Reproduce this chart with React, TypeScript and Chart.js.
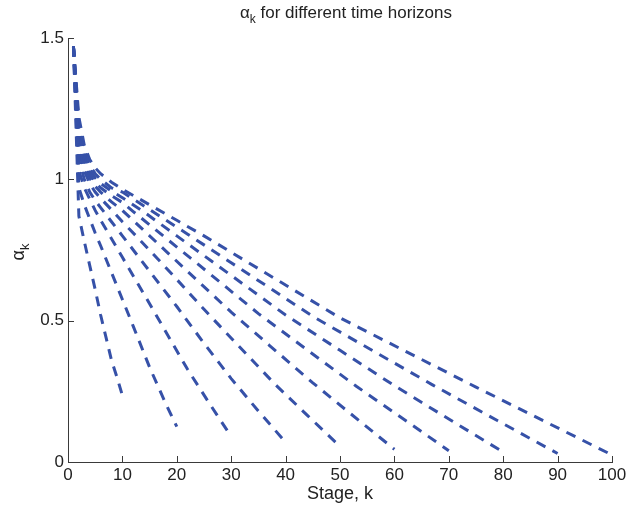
import React, { useEffect, useRef } from "react";
import { Chart, registerables } from "chart.js";

Chart.register(...registerables);

// ---- data ----
const horizons = [10, 20, 30, 40, 50, 60, 70, 80, 90, 100];

const stages10 = [1, 2, 3, 4, 5, 6, 7, 8, 9, 10];
const alpha10 = [1.47, 0.87, 0.78, 0.695, 0.61, 0.52, 0.44, 0.36, 0.3, 0.235];

const stages20 = [1, 2, 3, 4, 5, 6, 8, 10, 12, 15, 18, 20];
const alpha20 = [1.47, 0.97, 0.91, 0.86, 0.81, 0.765, 0.67, 0.575, 0.48, 0.335, 0.205, 0.125];

const stages30 = [1, 2, 3, 4, 5, 6, 8, 10, 12, 15, 18, 22, 26, 30];
const alpha30 = [1.47, 1.03, 0.97, 0.93, 0.89, 0.856, 0.79, 0.724, 0.658, 0.56, 0.46, 0.327, 0.207, 0.09];

const stages40 = [1, 2, 3, 4, 5, 6, 8, 10, 15, 20, 25, 30, 35, 40];
const alpha40 = [1.47, 1.07, 1.0, 0.955, 0.925, 0.9, 0.85, 0.8, 0.675, 0.55, 0.42, 0.295, 0.18, 0.07];

const stages50 = [1, 2, 3, 4, 5, 6, 8, 10, 13, 19, 25, 31, 38, 44, 50];
const alpha50 = [1.47, 1.1, 1.03, 0.985, 0.955, 0.933, 0.892, 0.85, 0.79, 0.667, 0.54, 0.418, 0.276, 0.165, 0.055];

const stages60 = [1, 2, 3, 4, 5, 6, 8, 10, 15, 22, 30, 37, 45, 52, 60];
const alpha60 = [1.47, 1.13, 1.05, 1.005, 0.975, 0.955, 0.92, 0.89, 0.8, 0.674, 0.53, 0.413, 0.28, 0.17, 0.045];

const stages70 = [1, 2, 3, 4, 5, 6, 8, 10, 12, 18, 26, 35, 44, 53, 61, 70];
const alpha70 = [1.47, 1.15, 1.07, 1.02, 0.99, 0.97, 0.942, 0.918, 0.886, 0.792, 0.667, 0.525, 0.396, 0.268, 0.161, 0.04];

const stages80 = [1, 2, 3, 4, 5, 6, 8, 10, 14, 20, 30, 40, 50, 60, 70, 80];
const alpha80 = [1.47, 1.17, 1.085, 1.035, 1.005, 0.985, 0.958, 0.935, 0.884, 0.8, 0.66, 0.52, 0.395, 0.27, 0.152, 0.035];

const stages90 = [1, 2, 3, 4, 5, 6, 8, 10, 15, 22, 30, 38, 45, 56, 67, 79, 90];
const alpha90 = [1.47, 1.19, 1.1, 1.05, 1.02, 1.0, 0.97, 0.955, 0.893, 0.806, 0.705, 0.604, 0.515, 0.394, 0.273, 0.146, 0.03];

const stages100 = [1, 2, 3, 4, 5, 6, 8, 10, 15, 20, 25, 35, 50, 62, 75, 88, 100];
const alpha100 = [1.47, 1.22, 1.12, 1.07, 1.04, 1.02, 0.99, 0.965, 0.91, 0.855, 0.8, 0.684, 0.51, 0.392, 0.265, 0.14, 0.025];

const stageSets = [stages10, stages20, stages30, stages40, stages50, stages60, stages70, stages80, stages90, stages100];
const alphaSets = [alpha10, alpha20, alpha30, alpha40, alpha50, alpha60, alpha70, alpha80, alpha90, alpha100];

const xMin = 0;
const xMax = 100;
const xStep = 10;
const yMin = 0;
const yMax = 1.5;
const yStep = 0.5;

const titleRest = " for different time horizons";
const xTitle = "Stage, k";

// ---- styles ----
const LINE_COLOR = "#3651a8";
const AXIS_COLOR = "#3a3a3a";
const TEXT_COLOR = "#222222";
const FONT_FAMILY = "'Liberation Sans', Arial, Helvetica, sans-serif";

function drawSubText(ctx: CanvasRenderingContext2D, x: number, y: number, size: number, rest: string, align: "center" | "left") {
  const mainFont = `${size}px ${FONT_FAMILY}`;
  const subSize = Math.round(size * 0.72);
  const subFont = `${subSize}px ${FONT_FAMILY}`;
  ctx.font = mainFont;
  const wA = ctx.measureText("α").width;
  const wR = rest ? ctx.measureText(rest).width : 0;
  ctx.font = subFont;
  const wK = ctx.measureText("k").width;
  const total = wA + wK + wR;
  let sx = align === "center" ? x - total / 2 : x;
  ctx.textAlign = "left";
  ctx.textBaseline = "alphabetic";
  ctx.font = mainFont;
  ctx.fillText("α", sx, y);
  sx += wA;
  ctx.font = subFont;
  ctx.fillText("k", sx, y + size * 0.3);
  sx += wK;
  if (rest) {
    ctx.font = mainFont;
    ctx.fillText(rest, sx, y);
  }
}

const decorPlugin = {
  id: "decor",
  afterDraw(chart: any) {
    const { ctx, chartArea, scales } = chart;
    const xs = scales.x;
    const ys = scales.y;
    ctx.save();
    ctx.strokeStyle = AXIS_COLOR;
    ctx.lineWidth = 1;
    const tickLen = 6;
    ctx.beginPath();
    xs.ticks.forEach((t: any) => {
      const px = Math.round(xs.getPixelForValue(t.value)) + 0.5;
      ctx.moveTo(px, chartArea.bottom);
      ctx.lineTo(px, chartArea.bottom - tickLen);
    });
    ys.ticks.forEach((t: any) => {
      const py = Math.round(ys.getPixelForValue(t.value)) + 0.5;
      ctx.moveTo(chartArea.left, py);
      ctx.lineTo(chartArea.left + tickLen, py);
    });
    ctx.stroke();

    ctx.fillStyle = TEXT_COLOR;
    // title
    drawSubText(ctx, 346, 18, 17, titleRest, "center");
    // x title
    ctx.font = `18px ${FONT_FAMILY}`;
    ctx.textAlign = "center";
    ctx.textBaseline = "middle";
    ctx.fillText(xTitle, (chartArea.left + chartArea.right) / 2, 494);
    // y title
    ctx.save();
    ctx.translate(24, 252);
    ctx.rotate(-Math.PI / 2);
    drawSubText(ctx, 0, 0, 18, "", "center");
    ctx.restore();
    ctx.restore();
  },
};

export default function App() {
  const ref = useRef<HTMLCanvasElement>(null);
  useEffect(() => {
    const canvas = ref.current;
    if (!canvas) return;
    const datasets = horizons.map((n, i) => ({
      label: `N = ${n}`,
      data: stageSets[i].map((k, j) => ({ x: k, y: alphaSets[i][j] })),
      showLine: true,
      borderColor: LINE_COLOR,
      backgroundColor: LINE_COLOR,
      borderWidth: 3,
      borderDash: [10, 8],
      borderCapStyle: "butt" as const,
      pointRadius: 0,
      pointHoverRadius: 0,
      fill: false,
      tension: 0,
    }));
    const tickFont = { family: FONT_FAMILY, size: 17 };
    const chart = new Chart(canvas, {
      type: "scatter",
      data: { datasets },
      options: {
        responsive: false,
        animation: false,
        devicePixelRatio: 1,
        layout: { padding: { left: 0, top: 38, right: 29, bottom: 0 } },
        plugins: {
          legend: { display: false },
          tooltip: { enabled: false },
          title: { display: false },
        },
        scales: {
          x: {
            type: "linear",
            min: xMin,
            max: xMax,
            ticks: {
              stepSize: xStep,
              padding: 3,
              color: TEXT_COLOR,
              font: tickFont,
              maxRotation: 0,
              autoSkip: false,
              callback: (v: any) => String(v),
            },
            grid: { display: false, drawTicks: false },
            border: { display: true, color: AXIS_COLOR, width: 1 },
            afterFit: (s: any) => {
              s.height = 46;
            },
          },
          y: {
            type: "linear",
            min: yMin,
            max: yMax,
            ticks: {
              stepSize: yStep,
              padding: 4,
              color: TEXT_COLOR,
              font: tickFont,
              autoSkip: false,
              callback: (v: any) => String(v),
            },
            grid: { display: false, drawTicks: false },
            border: { display: true, color: AXIS_COLOR, width: 1 },
            afterFit: (s: any) => {
              s.width = 68;
            },
          },
        },
      } as any,
      plugins: [decorPlugin],
    });
    return () => chart.destroy();
  }, []);
  return (
    <div style={{ position: "fixed", left: 0, top: 0, width: 641, height: 508, background: "#fff" }}>
      <canvas ref={ref} width={641} height={508} style={{ display: "block" }} />
    </div>
  );
}
